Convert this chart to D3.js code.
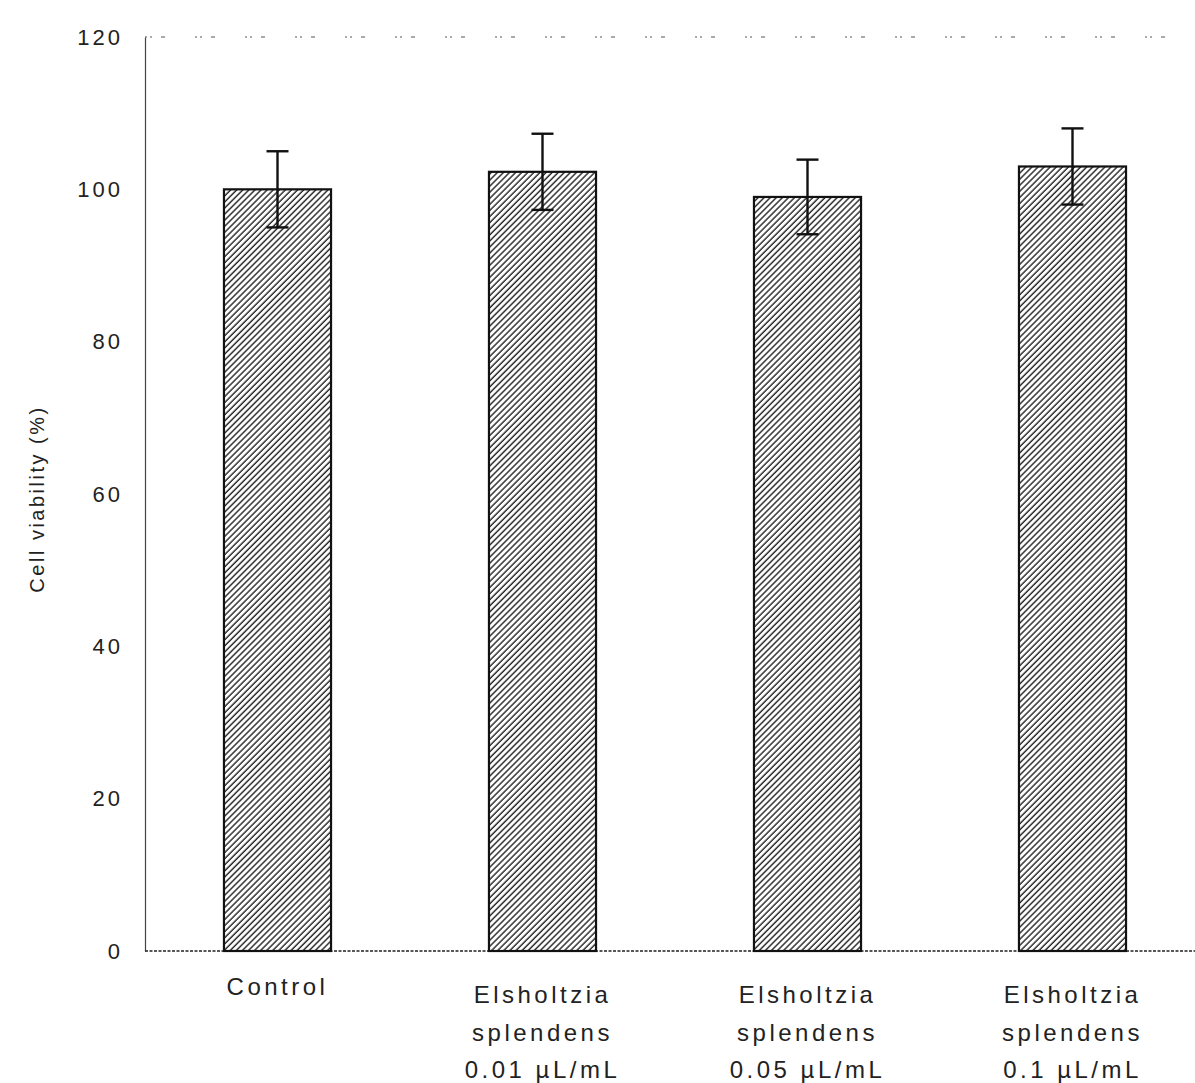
<!DOCTYPE html>
<html>
<head>
<meta charset="utf-8">
<script src="https://cdn.jsdelivr.net/npm/d3@7/dist/d3.min.js"></script>
<style>
  body { margin: 0; background: #fff; }
  svg { display: block; }
  text { font-family: "Liberation Sans", Arial, sans-serif; fill: #222; }
</style>
</head>
<body>
<svg></svg>
<script>
var groups = ["Control", "Elsholtzia splendens 0.01 µL/mL", "Elsholtzia splendens 0.05 µL/mL", "Elsholtzia splendens 0.1 µL/mL"]
var labelLines = [["Control"], ["Elsholtzia", "splendens", "0.01 µL/mL"], ["Elsholtzia", "splendens", "0.05 µL/mL"], ["Elsholtzia", "splendens", "0.1 µL/mL"]]
var viability = [100, 102.3, 99, 103]
var errors = [5, 5, 4.9, 5]
var yTicks = [0, 20, 40, 60, 80, 100, 120]

var screen = {width:1195, height:1083}
var margins = {top:37, bottom:132, left:145, right:0}

var width = screen.width - margins.left - margins.right
var height = screen.height - margins.top - margins.bottom

var svg = d3.select("svg")
    .attr("width", screen.width)
    .attr("height", screen.height)

// hatch pattern for the bars
var defs = svg.append("defs")
defs.append("pattern")
    .attr("id", "hatch")
    .attr("patternUnits", "userSpaceOnUse")
    .attr("width", 4.3)
    .attr("height", 4.3)
    .attr("patternTransform", "rotate(45)")
    .append("line")
    .attr("x1", 1).attr("y1", 0)
    .attr("x2", 1).attr("y2", 4.3)
    .attr("stroke", "#222")
    .attr("stroke-width", 1.4)

var graph = svg.append("g")
    .attr("id", "graph")
    .attr("transform", "translate(" + margins.left + "," + margins.top + ")")

var xScale = d3.scaleBand()
    .domain(groups)
    .range([0, 1060])
    .paddingInner(0.596)
    .paddingOuter(0.298)

var yScale = d3.scaleLinear()
    .domain([0, 120])
    .range([height, 0])

// frame: dotted top, thin left, bottom baseline
graph.append("line")
    .attr("x1", 0).attr("x2", width - 12)
    .attr("y1", 0).attr("y2", 0)
    .attr("stroke", "#555")
    .attr("stroke-width", 1)
    .attr("stroke-dasharray", "2,3,2,9,4,30")

var yAxis = d3.axisLeft(yScale)
    .tickValues(yTicks)
    .tickSize(0)
    .tickPadding(22)

var yg = graph.append("g")
    .attr("id", "yAxis")
    .call(yAxis)
yg.select(".domain").attr("stroke", "#444").attr("stroke-width", 1.2)
yg.selectAll("text")
    .style("font-size", "22px")
    .style("letter-spacing", "3px")
    .attr("fill", "#333")

graph.append("line")
    .attr("x1", 0).attr("x2", width)
    .attr("y1", height).attr("y2", height)
    .attr("stroke", "#222")
    .attr("stroke-width", 1.4)
    .attr("stroke-dasharray", "3,1.5")

// bars
graph.selectAll("rect.bar")
    .data(viability)
    .enter()
    .append("rect")
    .attr("class", "bar")
    .attr("x", function(d, i){ return xScale(groups[i]) })
    .attr("y", function(d){ return yScale(d) })
    .attr("width", xScale.bandwidth())
    .attr("height", function(d){ return height - yScale(d) })
    .attr("fill", "url(#hatch)")
    .attr("stroke", "#111")
    .attr("stroke-width", 2.2)

// error bars
var err = graph.selectAll("g.err")
    .data(viability)
    .enter()
    .append("g")
    .attr("class", "err")
    .attr("transform", function(d, i){
        return "translate(" + (xScale(groups[i]) + xScale.bandwidth() / 2) + ",0)"
    })

err.append("line")
    .attr("x1", 0).attr("x2", 0)
    .attr("y1", function(d, i){ return yScale(d + errors[i]) })
    .attr("y2", function(d, i){ return yScale(d - errors[i]) })
    .attr("stroke", "#111").attr("stroke-width", 2.4)

err.selectAll("line.cap")
    .data(function(d, i){ return [d + errors[i], d - errors[i]] })
    .enter()
    .append("line")
    .attr("class", "cap")
    .attr("x1", -11).attr("x2", 11)
    .attr("y1", function(v){ return yScale(v) })
    .attr("y2", function(v){ return yScale(v) })
    .attr("stroke", "#111").attr("stroke-width", 2.4)

// category labels
var labels = graph.selectAll("text.cat")
    .data(labelLines)
    .enter()
    .append("text")
    .attr("class", "cat")
    .attr("text-anchor", "middle")
    .attr("x", function(d, i){ return xScale(groups[i]) + xScale.bandwidth() / 2 })
    .attr("y", height + 44)
    .style("font-size", "24px")
    .style("letter-spacing", "3.5px")
    .attr("fill", "#333")

labels.selectAll("tspan")
    .data(function(d){ return d })
    .enter()
    .append("tspan")
    .attr("x", function(){ return d3.select(this.parentNode).attr("x") })
    .attr("dy", function(d, j){ return j == 0 ? 0 : 37.5 })
    .text(function(d){ return d })

labels.filter(function(d, i){ return i > 0 }).attr("y", height + 52)

// y axis title
svg.append("text")
    .attr("transform", "translate(44," + (margins.top + height / 2 + 5) + ") rotate(-90)")
    .attr("text-anchor", "middle")
    .style("font-size", "20px")
    .style("letter-spacing", "2.5px")
    .attr("fill", "#333")
    .text("Cell viability (%)")
</script>
</body>
</html>
